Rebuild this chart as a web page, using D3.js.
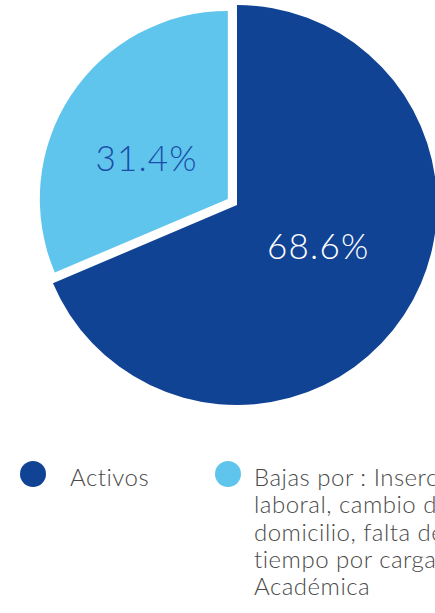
<!DOCTYPE html>
<meta charset="utf-8">
<script src="https://d3js.org/d3.v7.min.js"></script>
<style>
  body { margin: 0; background: #fff; overflow: hidden; }
</style>
<div id="pie-chart"></div>
<script>

// data
var categories = ["Activos", "Bajas por : Inserción laboral, cambio de domicilio, falta de tiempo por carga Académica"];
var legendLines = [["Activos"], ["Bajas por : Inserción", "laboral, cambio de", "domicilio, falta de", "tiempo por carga", "Académica"]];
var values = [68.6, 31.4];
var labels = ["68.6%", "31.4%"];
var colors = ["#114395", "#5fc5ec"];
var labelColors = ["#ffffff", "#1a4ea8"];

var width = 435, height = 613;
var font = "Lato";

var svg = d3.select("#pie-chart")
  .append("svg")
    .attr("width", width)
    .attr("height", height);

var pie = d3.pie().sort(null).value(function(d) { return d; });
var arcs = pie(values);

// the small slice is pulled out a bit and drawn a little smaller
var radius = [200, 188];
var offset = [0, 11];
var cx = 237, cy = 205;

var g = svg.selectAll(".slice")
  .data(arcs)
  .enter().append("g")
    .attr("class", "slice")
    .attr("transform", function(d, i) {
      var mid = (d.startAngle + d.endAngle) / 2;
      var dx = Math.sin(mid) * offset[i], dy = -Math.cos(mid) * offset[i];
      return "translate(" + (cx + dx) + "," + (cy + dy) + ")";
    });

g.append("path")
  .attr("fill", function(d, i) { return colors[i]; })
  .attr("d", function(d, i) {
    return d3.arc().innerRadius(0).outerRadius(radius[i])(d);
  });

// labels sit a little counter-clockwise of the slice middle
g.append("text")
  .attr("transform", function(d) {
    var a = (d.startAngle + d.endAngle) / 2 - 0.117, r = 91;
    return "translate(" + (Math.sin(a) * r) + "," + (-Math.cos(a) * r) + ")";
  })
  .attr("text-anchor", "middle")
  .attr("dy", "0.36em")
  .attr("fill", function(d, i) { return labelColors[i]; })
  .style("font-family", font)
  .style("font-weight", 300)
  .style("font-size", "35px")
  .style("letter-spacing", "1.2px")
  .text(function(d, i) { return labels[i]; });

// legend
var legendX = [33, 228];
var legend = svg.selectAll(".legend")
  .data(categories)
  .enter().append("g")
    .attr("class", "legend")
    .attr("transform", function(d, i) { return "translate(" + legendX[i] + ",474)"; });

legend.append("circle")
  .attr("r", 13)
  .attr("fill", function(d, i) { return colors[i]; });

legend.append("text")
  .attr("x", function(d, i) { return i === 0 ? 37 : 26; })
  .attr("y", 12)
  .attr("fill", "#4a4a4a")
  .style("font-family", font)
  .style("font-weight", 300)
  .style("font-size", "24px")
  .style("letter-spacing", "0.5px")
  .selectAll("tspan")
  .data(function(d, i) { return legendLines[i]; })
  .enter().append("tspan")
    .attr("x", function() { return this.parentNode.getAttribute("x"); })
    .attr("dy", function(d, j) { return j === 0 ? 0 : 27.3; })
    .text(function(d) { return d; });

</script>
